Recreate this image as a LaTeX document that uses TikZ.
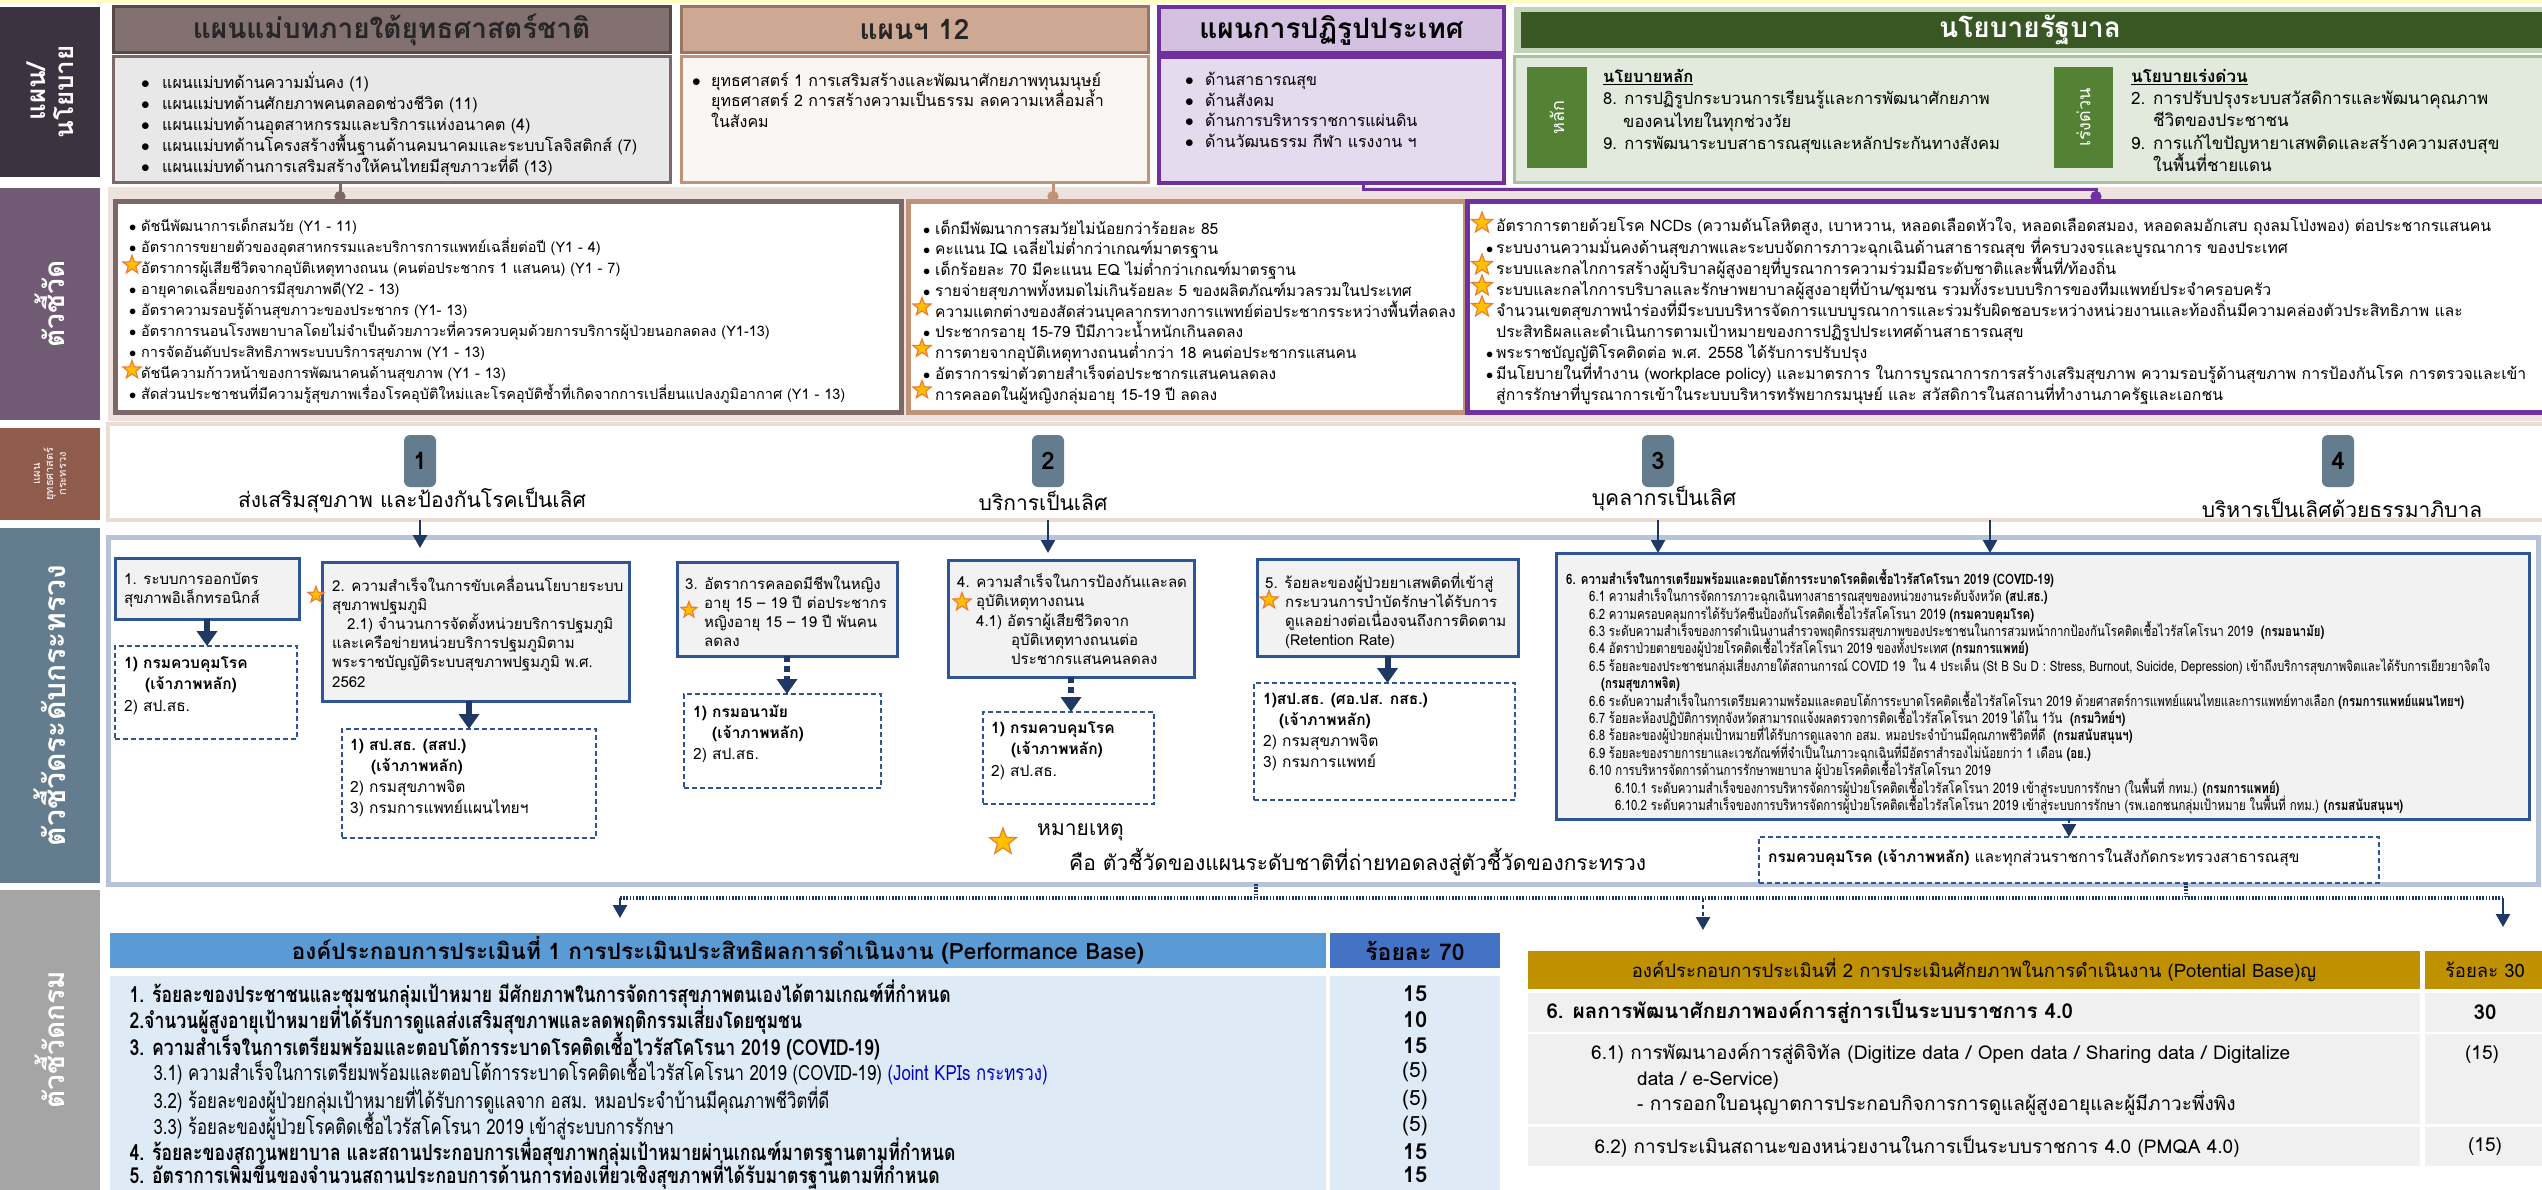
\documentclass[tikz,border=0pt]{standalone}
\usepackage{fontspec}
\setmainfont[Script=Thai]{Loma}
\newfontfamily\thn[Script=Thai,FakeStretch=0.8]{Loma}
\usetikzlibrary{positioning,shapes.geometric,arrows.meta}
\setlength{\lineskiplimit}{-30pt}

\definecolor{lblA}{HTML}{3D3240}
\definecolor{lblB}{HTML}{715B74}
\definecolor{lblC}{HTML}{8F5B4B}
\definecolor{lblD}{HTML}{647D8E}
\definecolor{lblE}{HTML}{A5A5A5}
\definecolor{mauve}{HTML}{7C6869}
\definecolor{tanb}{HTML}{C09379}
\definecolor{purp}{HTML}{7030A0}
\definecolor{dgreen}{HTML}{385723}
\definecolor{mgreen}{HTML}{548235}
\definecolor{navy}{HTML}{1F3864}
\definecolor{kblue}{HTML}{2F5597}
\definecolor{pinkbg}{HTML}{EDE2DE}
\definecolor{starfill}{HTML}{FFC000}
\definecolor{starline}{HTML}{ED7D31}
\definecolor{hdrA}{HTML}{5B9BD5}
\definecolor{hdrB}{HTML}{4472C4}
\definecolor{bodyA}{HTML}{DEEBF7}
\definecolor{gold}{HTML}{BF9000}

\newcommand{\fs}[2]{\fontsize{#1}{#2}\selectfont}
\newcommand{\bul}[1][12pt]{\makebox[#1][l]{$\bullet$}}

\begin{document}
\begin{tikzpicture}[x=1pt,y=-1pt,
  lbl/.style={rotate=90,text=white,font=\bfseries\fs{28}{32},align=center},
  box/.style={anchor=north west,inner sep=0pt,outer sep=0pt},
  lst/.style={anchor=north west,inner sep=0pt,align=left,execute at begin node=\strut},
  ttl/.style={font=\bfseries\fs{28}{32}},
  kstar/.style={star,star points=5,star point ratio=2.4,minimum size=19pt,inner sep=0pt,fill=starfill,draw=starline,line width=1.2pt},
  kpi/.style={box,draw=kblue,line width=3pt,fill=black!5},
  own/.style={box,draw=kblue,line width=1.8pt,dash pattern=on 5pt off 3pt,fill=white},
  thin/.style={draw=navy,line width=2.5pt,-{Triangle[width=14pt,length=13pt]}},
  blk/.style={draw=navy,line width=6pt,-{Triangle[width=20pt,length=15pt]}},
  dots/.style={draw=navy,line width=4pt,dash pattern=on 1.6pt off 1.6pt},
  badge/.style={fill=lblD,rounded corners=6pt,minimum width=32pt,minimum height=52pt,inner sep=0pt,font=\bfseries\fs{24}{28}},
  rowb/.style={anchor=west,font=\thn\bfseries\fs{22}{26}},
  rown/.style={anchor=west,font=\thn\fs{21}{26}},
]
\useasboundingbox (0,0) rectangle (2542,1190);

%top strip
\fill[yellow!25] (0,0) rectangle (2542,3);

%%%%%% row labels
\node[box,fill=lblA,minimum width=100pt,minimum height=170pt] (la) at (0,7) {};
\node[lbl,font=\bfseries\fs{26}{28}] at (la.center) {แผน/\\นโยบาย};
\node[box,fill=lblB,minimum width=100pt,minimum height=232pt] (lb) at (0,188) {};
\node[lbl] at (lb.center) {ตัวชี้วัด};
\node[box,fill=lblC,minimum width=100pt,minimum height=92pt] (lc) at (0,428) {};
\node[lbl,font=\fs{11}{13}] at (lc.center) {แผน\\ยุทธศาสตร์\\กระทรวง};
\node[box,fill=lblD,minimum width=100pt,minimum height=355pt] (ld) at (0,528) {};
\node[lbl,font=\bfseries\fs{30}{34}] at (ld.center) {ตัวชี้วัดระดับกระทรวง};
\node[box,fill=lblE,minimum width=100pt,minimum height=300pt] (le) at (0,890) {};
\node[lbl] at (le.center) {ตัวชี้วัดกรม};

%%%%%% row 1: plans and policy

%master plans
\node[box,fill=mauve!95,draw=mauve!70!black,line width=3pt,minimum width=557pt,minimum height=46pt,ttl,text=black!85] (tA) at (113,7) {แผนแม่บทภายใต้ยุทธศาสตร์ชาติ};
\node[box,fill=black!9,draw=mauve,line width=3pt,minimum width=557pt,minimum height=126pt] (cA) at (113,57) {};
\node[lst,font=\fs{16}{21}] at (141,72) {\bul[21pt]แผนแม่บทด้านความมั่นคง (1)\\
\bul[21pt]แผนแม่บทด้านศักยภาพคนตลอดช่วงชีวิต (11)\\
\bul[21pt]แผนแม่บทด้านอุตสาหกรรมและบริการแห่งอนาคต (4)\\
\bul[21pt]แผนแม่บทด้านโครงสร้างพื้นฐานด้านคมนาคมและระบบโลจิสติกส์ (7)\\
\bul[21pt]แผนแม่บทด้านการเสริมสร้างให้คนไทยมีสุขภาวะที่ดี (13)};

%plan 12
\node[box,fill=tanb!80,draw=tanb!80!black,line width=3pt,minimum width=467pt,minimum height=46pt,ttl,text=black!85] (tB) at (681,7) {แผนฯ 12};
\node[box,fill=tanb!8,draw=tanb,line width=3pt,minimum width=467pt,minimum height=126pt] (cB) at (681,57) {};
\node[lst,font=\fs{16}{20.5}] at (692,72) {\bul[19pt]ยุทธศาสตร์ 1 การเสริมสร้างและพัฒนาศักยภาพทุนมนุษย์\\
\hspace*{19pt}ยุทธศาสตร์ 2 การสร้างความเป็นธรรม ลดความเหลื่อมล้ำ\\
\hspace*{19pt}ในสังคม};

%reform plan
\node[box,fill=purp!30,draw=purp,line width=4pt,minimum width=345pt,minimum height=46pt,ttl] (tC) at (1159,7) {แผนการปฏิรูปประเทศ};
\node[box,fill=purp!18,draw=purp,line width=4pt,minimum width=345pt,minimum height=126pt] (cC) at (1159,57) {};
\node[lst,font=\fs{16}{20.5}] at (1185,72) {\bul[20pt]ด้านสาธารณสุข\\
\bul[20pt]ด้านสังคม\\
\bul[20pt]ด้านการบริหารราชการแผ่นดิน\\
\bul[20pt]ด้านวัฒนธรรม กีฬา แรงงาน ฯ};

%government policy
\node[box,fill=mgreen!35,minimum width=1035pt,minimum height=46pt] (tD) at (1514,7) {};
\node[box,fill=dgreen,minimum width=1030pt,minimum height=36pt] (tDi) at (1521,12) {};
\node[ttl,text=white] at (2030,30) {นโยบายรัฐบาล};
\node[box,fill=mgreen!17,draw=mgreen!50,line width=3pt,minimum width=1035pt,minimum height=126pt] (cD) at (1514,57) {};
\node[box,fill=mgreen,minimum width=60pt,minimum height=101pt] (hl) at (1527,67) {};
\node[lbl,font=\fs{18}{20}] at (hl.center) {หลัก};
\node[box,fill=mgreen,minimum width=59pt,minimum height=101pt] (rd) at (2054,67) {};
\node[lbl,font=\fs{18}{20}] at (rd.center) {เร่งด่วน};
\node[lst,font=\fs{16.5}{22.3}] at (1603,69) {\underline{\textbf{นโยบายหลัก}}\\
8. การปฏิรูปกระบวนการเรียนรู้และการพัฒนาศักยภาพ\\
\hspace*{20pt}ของคนไทยในทุกช่วงวัย\\
9. การพัฒนาระบบสาธารณสุขและหลักประกันทางสังคม};
\node[lst,font=\fs{17}{22.3}] at (2131,69) {\underline{\textbf{นโยบายเร่งด่วน}}\\
2. การปรับปรุงระบบสวัสดิการและพัฒนาคุณภาพ\\
\hspace*{22pt}ชีวิตของประชาชน\\
9. การแก้ไขปัญหายาเสพติดและสร้างความสงบสุข\\
\hspace*{22pt}ในพื้นที่ชายแดน};

%%%%%% row 2: indicators
\node[box,fill=pinkbg,minimum width=2440pt,minimum height=234pt] (bgB) at (108,187) {};
\node[box,fill=white,draw=mauve,line width=5pt,minimum width=786pt,minimum height=210pt] (rA) at (115,202) {};
\node[box,fill=white,draw=tanb,line width=5pt,minimum width=557pt,minimum height=210pt] (rB) at (908,202) {};
\node[box,fill=white,draw=purp,line width=5pt,minimum width=1085pt,minimum height=210pt] (rC) at (1467,202) {};

%links from plans
\draw[mauve,line width=3pt,-{Circle[length=11pt]}] ([xshift=-51.5pt]cA.south) -- ([xshift=-51.5pt]cA.south |- rA.north);
\draw[tanb,line width=3pt,-{Circle[length=11pt]}] ([xshift=138.5pt]cB.south) -- ([xshift=138.5pt]cB.south |- rB.north);
\draw[purp,line width=3pt,-{Circle[length=11pt]}] ([xshift=31.5pt]cC.south) -- ++(0,7) -| ([xshift=86.5pt]rC.north);

\node[lst,font=\fs{14.5}{21}] at (129,218) {\bul ดัชนีพัฒนาการเด็กสมวัย (Y1 - 11)\\
\bul อัตราการขยายตัวของอุตสาหกรรมและบริการการแพทย์เฉลี่ยต่อปี (Y1 - 4)\\
\hspace*{12pt}อัตราการผู้เสียชีวิตจากอุบัติเหตุทางถนน (คนต่อประชากร 1 แสนคน) (Y1 - 7)\\
\bul อายุคาดเฉลี่ยของการมีสุขภาพดี(Y2 - 13)\\
\bul อัตราความรอบรู้ด้านสุขภาวะของประชากร (Y1- 13)\\
\bul อัตราการนอนโรงพยาบาลโดยไม่จำเป็นด้วยภาวะที่ควรควบคุมด้วยการบริการผู้ป่วยนอกลดลง (Y1-13)\\
\bul การจัดอันดับประสิทธิภาพระบบบริการสุขภาพ (Y1 - 13)\\
\hspace*{12pt}ดัชนีความก้าวหน้าของการพัฒนาคนด้านสุขภาพ (Y1 - 13)\\
\bul สัดส่วนประชาชนที่มีความรู้สุขภาพเรื่องโรคอุบัติใหม่และโรคอุบัติซ้ำที่เกิดจากการเปลี่ยนแปลงภูมิอากาศ (Y1 - 13)};
\node[kstar] at (132,265) {};
\node[kstar] at (132,370) {};

\node[lst,font=\fs{15.5}{20.75}] at (923,219.5) {\bul เด็กมีพัฒนาการสมวัยไม่น้อยกว่าร้อยละ 85\\
\bul คะแนน IQ เฉลี่ยไม่ต่ำกว่าเกณฑ์มาตรฐาน\\
\bul เด็กร้อยละ 70 มีคะแนน EQ ไม่ต่ำกว่าเกณฑ์มาตรฐาน\\
\bul รายจ่ายสุขภาพทั้งหมดไม่เกินร้อยละ 5 ของผลิตภัณฑ์มวลรวมในประเทศ\\
\hspace*{12pt}ความแตกต่างของสัดส่วนบุคลากรทางการแพทย์ต่อประชากรระหว่างพื้นที่ลดลง\\
\bul ประชากรอายุ 15-79 ปีมีภาวะน้ำหนักเกินลดลง\\
\hspace*{12pt}การตายจากอุบัติเหตุทางถนนต่ำกว่า 18 คนต่อประชากรแสนคน\\
\bul อัตราการฆ่าตัวตายสำเร็จต่อประชากรแสนคนลดลง\\
\hspace*{12pt}การคลอดในผู้หญิงกลุ่มอายุ 15-19 ปี ลดลง};
\node[kstar] at (922,307) {};
\node[kstar] at (922,348.5) {};
\node[kstar] at (922,390) {};

\node[lst,font=\fs{15.8}{21.1}] at (1486,217.5) {\hspace*{10pt}อัตราการตายด้วยโรค NCDs (ความดันโลหิตสูง, เบาหวาน, หลอดเลือดหัวใจ, หลอดเลือดสมอง, หลอดลมอักเสบ ถุงลมโป่งพอง) ต่อประชากรแสนคน\\
\bul[10pt]ระบบงานความมั่นคงด้านสุขภาพและระบบจัดการภาวะฉุกเฉินด้านสาธารณสุข ที่ครบวงจรและบูรณาการ ของประเทศ\\
\hspace*{10pt}ระบบและกลไกการสร้างผู้บริบาลผู้สูงอายุที่บูรณาการความร่วมมือระดับชาติและพื้นที่/ท้องถิ่น\\
\hspace*{10pt}ระบบและกลไกการบริบาลและรักษาพยาบาลผู้สูงอายุที่บ้าน/ชุมชน รวมทั้งระบบบริการของทีมแพทย์ประจำครอบครัว\\
\hspace*{10pt}จำนวนเขตสุขภาพนำร่องที่มีระบบบริหารจัดการแบบบูรณาการและร่วมรับผิดชอบระหว่างหน่วยงานและท้องถิ่นมีความคล่องตัวประสิทธิภาพ และ\\
\hspace*{10pt}ประสิทธิผลและดำเนินการตามเป้าหมายของการปฏิรูปประเทศด้านสาธารณสุข\\
\bul[10pt]พระราชบัญญัติโรคติดต่อ พ.ศ. 2558 ได้รับการปรับปรุง\\
\bul[10pt]มีนโยบายในที่ทำงาน (workplace policy) และมาตรการ ในการบูรณาการการสร้างเสริมสุขภาพ ความรอบรู้ด้านสุขภาพ การป้องกันโรค การตรวจและเข้า\\
\hspace*{10pt}สู่การรักษาที่บูรณาการเข้าในระบบบริหารทรัพยากรมนุษย์ และ สวัสดิการในสถานที่ทำงานภาครัฐและเอกชน};
\node[kstar,minimum size=22pt] at (1482,223) {};
\node[kstar,minimum size=22pt] at (1482,265) {};
\node[kstar,minimum size=22pt] at (1482,286) {};
\node[kstar,minimum size=22pt] at (1482,307) {};

%%%%%% row 3: ministry strategy
\node[box,fill=white,draw=pinkbg!80!brown!70,line width=4pt,minimum width=2440pt,minimum height=96pt] (sbox) at (108,424) {};
\node[badge] (g1) at (420,461) {1};
\node[badge] (g2) at (1048,461) {2};
\node[badge] (g3) at (1658,461) {3};
\node[badge] (g4) at (2338,461) {4};
\node[font=\fs{21}{24}] at (412,501) {ส่งเสริมสุขภาพ และป้องกันโรคเป็นเลิศ};
\node[font=\fs{21}{24}] at (1043,501) {บริการเป็นเลิศ};
\node[font=\fs{21}{24}] at (1664,499) {บุคลากรเป็นเลิศ};
\node[font=\fs{21}{24}] at (2342,508) {บริหารเป็นเลิศด้วยธรรมาภิบาล};

%%%%%% row 4: ministry indicators
\node[box,fill=white,draw=kblue!35,line width=5pt,minimum width=2430pt,minimum height=347pt] (mbox) at (108,537) {};

%kpi boxes
\node[kpi,minimum width=184pt,minimum height=61pt] (b1) at (115,558) {};
\node[kpi,minimum width=307pt,minimum height=139pt] (b2) at (322,562) {};
\node[kpi,minimum width=220pt,minimum height=94pt] (b3) at (677,562) {};
\node[kpi,minimum width=246pt,minimum height=117pt] (b4) at (948,560) {};
\node[kpi,minimum width=261pt,minimum height=97pt] (b5) at (1257,559) {};
\node[kpi,minimum width=973pt,minimum height=266pt] (b6) at (1556,553) {};

%owner boxes
\node[own,minimum width=182pt,minimum height=93pt] (d1) at (115,646) {};
\node[own,minimum width=254pt,minimum height=109pt] (d2) at (342,729) {};
\node[own,minimum width=197pt,minimum height=94pt] (d3) at (684,694) {};
\node[own,minimum width=171pt,minimum height=92pt] (d4) at (983,712) {};
\node[own,minimum width=261pt,minimum height=117pt] (d5) at (1254,683) {};
\node[own,minimum width=620pt,minimum height=46pt] (d6) at (1759,837) {};

%arrows from strategy
\draw[thin,shorten >=14pt] (g1 |- sbox.south) -- (g1 |- b2.north);
\draw[thin,shorten >=7pt] (g2 |- sbox.south) -- (g2 |- b4.north);
\draw[thin] (g3 |- sbox.south) -- (g3 |- b6.north);
\draw[thin] ([xshift=-52.5pt]b6.north |- sbox.south) -- ([xshift=-52.5pt]b6.north);

%arrows to owners
\draw[blk] (b1.south) -- (b1.south |- d1.north);
\draw[blk] (d2.north |- b2.south) -- (d2.north);
\draw[blk,dash pattern=on 6pt off 4pt] (b3.south) -- (b3.south |- d3.north);
\draw[blk,dash pattern=on 6pt off 4pt] (b4.south) -- (b4.south |- d4.north);
\draw[blk] (b5.south) -- (b5.south |- d5.north);
\draw[thin,dash pattern=on 4pt off 3pt] (d6.north |- b6.south) -- (d6.north);

%kpi texts
\node[lst,font=\fs{15}{19.2}] at (124,572.5) {1. ระบบการออกบัตร\\สุขภาพอิเล็กทรอนิกส์};
\node[lst,font=\fs{15}{19.2}] at (332,575.5) {2. ความสำเร็จในการขับเคลื่อนนโยบายระบบ\\
สุขภาพปฐมภูมิ\\
\hspace*{15pt}2.1) จำนวนการจัดตั้งหน่วยบริการปฐมภูมิ\\
และเครือข่ายหน่วยบริการปฐมภูมิตาม\\
พระราชบัญญัติระบบสุขภาพปฐมภูมิ พ.ศ.\\
2562};
\node[kstar,minimum size=17pt] at (316,595) {};
\node[lst,font=\fs{15}{19.2}] at (685,575.5) {3. อัตราการคลอดมีชีพในหญิง\\
\hspace*{19pt}อายุ 15 – 19 ปี ต่อประชากร\\
\hspace*{19pt}หญิงอายุ 15 – 19 ปี พันคน\\
\hspace*{19pt}ลดลง};
\node[kstar,minimum size=17pt] at (689,610) {};
\node[lst,font=\fs{15}{19.25}] at (957,573.5) {4. ความสำเร็จในการป้องกันและลด\\
\hspace*{19pt}อุบัติเหตุทางถนน\\
\hspace*{19pt}4.1) อัตราผู้เสียชีวิตจาก\\
\hspace*{54pt}อุบัติเหตุทางถนนต่อ\\
\hspace*{54pt}ประชากรแสนคนลดลง};
\node[kstar,minimum size=19pt] at (962,602) {};
\node[lst,font=\fs{15}{19}] at (1265,572.5) {5. ร้อยละของผู้ป่วยยาเสพติดที่เข้าสู่\\
\hspace*{20pt}กระบวนการบำบัดรักษาได้รับการ\\
\hspace*{20pt}ดูแลอย่างต่อเนื่องจนถึงการติดตาม\\
\hspace*{20pt}(Retention Rate)};
\node[kstar,minimum size=19pt] at (1269,600) {};

\node[lst,font=\thn\fs{14.3}{17.4}] at (1566,569) {\textbf{6. ความสำเร็จในการเตรียมพร้อมและตอบโต้การระบาดโรคติดเชื้อไวรัสโคโรนา 2019 (COVID-19)}\\
\hspace*{23pt}6.1 ความสำเร็จในการจัดการภาวะฉุกเฉินทางสาธารณสุขของหน่วยงานระดับจังหวัด \textbf{(สป.สธ.)}\\
\hspace*{23pt}6.2 ความครอบคลุมการได้รับวัคซีนป้องกันโรคติดเชื้อไวรัสโคโรนา 2019 \textbf{(กรมควบคุมโรค)}\\
\hspace*{23pt}6.3 ระดับความสำเร็จของการดำเนินงานสำรวจพฤติกรรมสุขภาพของประชาชนในการสวมหน้ากากป้องกันโรคติดเชื้อไวรัสโคโรนา 2019 \ \textbf{(กรมอนามัย)}\\
\hspace*{23pt}6.4 อัตราป่วยตายของผู้ป่วยโรคติดเชื้อไวรัสโคโรนา 2019 ของทั้งประเทศ \textbf{(กรมการแพทย์)}\\
\hspace*{23pt}6.5 ร้อยละของประชาชนกลุ่มเสี่ยงภายใต้สถานการณ์ COVID 19 \ ใน 4 ประเด็น (St B Su D : Stress, Burnout, Suicide, Depression) เข้าถึงบริการสุขภาพจิตและได้รับการเยียวยาจิตใจ\\
\hspace*{35pt}\textbf{(กรมสุขภาพจิต)}\\
\hspace*{23pt}6.6 ระดับความสำเร็จในการเตรียมความพร้อมและตอบโต้การระบาดโรคติดเชื้อไวรัสโคโรนา 2019 ด้วยศาสตร์การแพทย์แผนไทยและการแพทย์ทางเลือก \textbf{(กรมการแพทย์แผนไทยฯ)}\\
\hspace*{23pt}6.7 ร้อยละห้องปฏิบัติการทุกจังหวัดสามารถแจ้งผลตรวจการติดเชื้อไวรัสโคโรนา 2019 ได้ใน 1วัน \ \textbf{(กรมวิทย์ฯ)}\\
\hspace*{23pt}6.8 ร้อยละของผู้ป่วยกลุ่มเป้าหมายที่ได้รับการดูแลจาก อสม. หมอประจำบ้านมีคุณภาพชีวิตที่ดี \ \textbf{(กรมสนับสนุนฯ)}\\
\hspace*{23pt}6.9 ร้อยละของรายการยาและเวชภัณฑ์ที่จำเป็นในภาวะฉุกเฉินที่มีอัตราสำรองไม่น้อยกว่า 1 เดือน \textbf{(อย.)}\\
\hspace*{23pt}6.10 การบริหารจัดการด้านการรักษาพยาบาล ผู้ป่วยโรคติดเชื้อไวรัสโคโรนา 2019\\
\hspace*{49pt}6.10.1 ระดับความสำเร็จของการบริหารจัดการผู้ป่วยโรคติดเชื้อไวรัสโคโรนา 2019 เข้าสู่ระบบการรักษา (ในพื้นที่ กทม.) \textbf{(กรมการแพทย์)}\\
\hspace*{49pt}6.10.2 ระดับความสำเร็จของการบริหารจัดการผู้ป่วยโรคติดเชื้อไวรัสโคโรนา 2019 เข้าสู่ระบบการรักษา (รพ.เอกชนกลุ่มเป้าหมาย ในพื้นที่ กทม.) \textbf{(กรมสนับสนุนฯ)}};

%owner texts
\node[lst,font=\fs{15.5}{21.5}] at (124,656) {\textbf{1) กรมควบคุมโรค}\\\hspace*{21pt}\textbf{(เจ้าภาพหลัก)}\\2) สป.สธ.};
\node[lst,font=\fs{15.5}{21}] at (350,739) {\textbf{1) สป.สธ. (สสป.)}\\\hspace*{21pt}\textbf{(เจ้าภาพหลัก)}\\2) กรมสุขภาพจิต\\3) กรมการแพทย์แผนไทยฯ};
\node[lst,font=\fs{15.5}{21}] at (693,705) {\textbf{1) กรมอนามัย}\\\hspace*{19pt}\textbf{(เจ้าภาพหลัก)}\\2) สป.สธ.};
\node[lst,font=\fs{15.5}{21.5}] at (991,721) {\textbf{1) กรมควบคุมโรค}\\\hspace*{20pt}\textbf{(เจ้าภาพหลัก)}\\2) สป.สธ.};
\node[lst,font=\fs{15.5}{21}] at (1263,693) {\textbf{1)สป.สธ. (ศอ.ปส. กสธ.)}\\\hspace*{16pt}\textbf{(เจ้าภาพหลัก)}\\2) กรมสุขภาพจิต\\3) กรมการแพทย์};
\node[anchor=west,inner sep=0pt,font=\fs{15.5}{19}] at (1768,858) {\textbf{กรมควบคุมโรค (เจ้าภาพหลัก)} และทุกส่วนราชการในสังกัดกระทรวงสาธารณสุข};

%note
\node[kstar,minimum size=28pt] at (1003,842) {};
\node[anchor=west,inner sep=0pt,font=\fs{21}{24}] at (1037,832) {หมายเหตุ};
\node[anchor=west,inner sep=0pt,font=\fs{21}{24}] at (1069,862) {คือ ตัวชี้วัดของแผนระดับชาติที่ถ่ายทอดลงสู่ตัวชี้วัดของกระทรวง};

%%%%%% row 5: department indicators
\node[box,fill=hdrA,minimum width=1216pt,minimum height=35pt] (h1) at (110,933) {};
\node[box,fill=hdrB,minimum width=170pt,minimum height=35pt] (h1b) at (1330,933) {};
\node[box,fill=bodyA,minimum width=1216pt,minimum height=214pt] (t1) at (110,976) {};
\node[box,fill=bodyA,minimum width=170pt,minimum height=214pt] (t1b) at (1330,976) {};

\node[box,fill=gold,minimum width=892pt,minimum height=38pt] (h2) at (1528,951) {};
\node[box,fill=gold,minimum width=120pt,minimum height=38pt] (h2b) at (2425,951) {};
\node[box,fill=black!6,minimum width=892pt,minimum height=39pt] (r2a) at (1528,993) {};
\node[box,fill=black!6,minimum width=120pt,minimum height=39pt] (r2ab) at (2425,993) {};
\node[box,fill=black!6,minimum width=892pt,minimum height=90pt] (r2b) at (1528,1034) {};
\node[box,fill=black!6,minimum width=120pt,minimum height=90pt] (r2bb) at (2425,1034) {};
\node[box,fill=black!6,minimum width=892pt,minimum height=39pt] (r2c) at (1528,1127) {};
\node[box,fill=black!6,minimum width=120pt,minimum height=39pt] (r2cb) at (2425,1127) {};

%links to department tables
\coordinate (jl) at (620,898);
\coordinate (jm) at (1703,898);
\coordinate (jr) at (2503,898);
\draw[dots] (jl) -- (jr);
\draw[dots] ([xshift=-67pt]mbox.south) -- ([xshift=-67pt]mbox.south |- jl);
\draw[dots] ([xshift=117pt]d6.south) -- ([xshift=117pt]d6.south |- jl);
\draw[thin,shorten >=15pt] (jl) -- (jl |- h1.north);
\draw[thin,dash pattern=on 4pt off 3pt,shorten >=21pt] (jm) -- (jm |- h2.north);
\draw[thin,shorten >=24pt] (jr) -- (jr |- h2b.north);

%table 1
\node[font=\bfseries\fs{22.5}{26}] at (h1.center) {องค์ประกอบการประเมินที่ 1 การประเมินประสิทธิผลการดำเนินงาน (Performance Base)};
\node[font=\bfseries\fs{23}{26}] at (h1b.center) {ร้อยละ 70};
\node[rowb] at (126,994) {1. ร้อยละของประชาชนและชุมชนกลุ่มเป้าหมาย มีศักยภาพในการจัดการสุขภาพตนเองได้ตามเกณฑ์ที่กำหนด};
\node[rowb] at (126,1020) {2.จำนวนผู้สูงอายุเป้าหมายที่ได้รับการดูแลส่งเสริมสุขภาพและลดพฤติกรรมเสี่ยงโดยชุมชน};
\node[rowb] at (126,1046) {3. ความสำเร็จในการเตรียมพร้อมและตอบโต้การระบาดโรคติดเชื้อไวรัสโคโรนา 2019 (COVID-19)};
\node[rown] at (150,1072) {3.1) ความสำเร็จในการเตรียมพร้อมและตอบโต้การระบาดโรคติดเชื้อไวรัสโคโรนา 2019 (COVID-19) \textcolor{blue!80!black}{(Joint KPIs กระทรวง)}};
\node[rown] at (150,1100) {3.2) ร้อยละของผู้ป่วยกลุ่มเป้าหมายที่ได้รับการดูแลจาก อสม. หมอประจำบ้านมีคุณภาพชีวิตที่ดี};
\node[rown] at (150,1126) {3.3) ร้อยละของผู้ป่วยโรคติดเชื้อไวรัสโคโรนา 2019 เข้าสู่ระบบการรักษา};
\node[rowb] at (126,1152) {4. ร้อยละของสถานพยาบาล และสถานประกอบการเพื่อสุขภาพกลุ่มเป้าหมายผ่านเกณฑ์มาตรฐานตามที่กำหนด};
\node[rowb] at (126,1175) {5. อัตราการเพิ่มขึ้นของจำนวนสถานประกอบการด้านการท่องเที่ยวเชิงสุขภาพที่ได้รับมาตรฐานตามที่กำหนด};
\node[font=\bfseries\fs{22}{26}] at (1415,994) {15};
\node[font=\bfseries\fs{22}{26}] at (1415,1020) {10};
\node[font=\bfseries\fs{22}{26}] at (1415,1046) {15};
\node[font=\fs{21}{26}] at (1415,1072) {(5)};
\node[font=\fs{21}{26}] at (1415,1100) {(5)};
\node[font=\fs{21}{26}] at (1415,1126) {(5)};
\node[font=\bfseries\fs{22}{26}] at (1415,1152) {15};
\node[font=\bfseries\fs{22}{26}] at (1415,1175) {15};

%table 2
\node[font=\fs{18.5}{22}] at (h2.center) {องค์ประกอบการประเมินที่ 2 การประเมินศักยภาพในการดำเนินงาน (Potential Base)ญ};
\node[font=\fs{18.5}{22}] at (h2b.center) {ร้อยละ 30};
\node[anchor=west,font=\bfseries\fs{20.5}{24}] at (1543,1012) {6. ผลการพัฒนาศักยภาพองค์การสู่การเป็นระบบราชการ 4.0};
\node[font=\bfseries\fs{20.5}{24}] at (r2ab.center) {30};
\node[lst,font=\fs{19}{25.5}] at (1591,1043) {6.1) การพัฒนาองค์การสู่ดิจิทัล (Digitize data / Open data / Sharing data / Digitalize\\
\hspace*{46pt}data / e-Service)\\
\hspace*{46pt}- การออกใบอนุญาตการประกอบกิจการการดูแลผู้สูงอายุและผู้มีภาวะพึ่งพิง};
\node[font=\fs{19}{24}] at (2482,1055) {(15)};
\node[anchor=west,font=\fs{19}{24}] at (1591,1147) {6.2) การประเมินสถานะของหน่วยงานในการเป็นระบบราชการ 4.0 (PMQA 4.0)};
\node[font=\fs{19}{24}] at (r2cb.center) {(15)};

\end{tikzpicture}
\end{document}
